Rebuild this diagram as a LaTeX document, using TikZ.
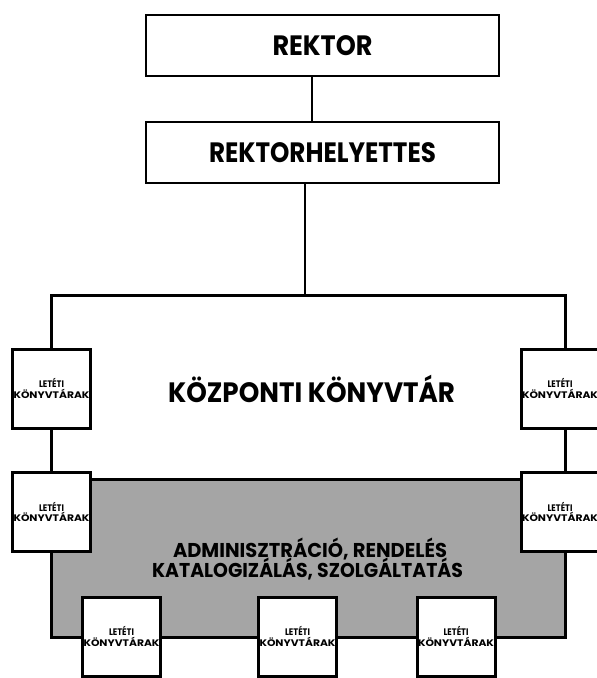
\documentclass[tikz,border=0pt]{standalone}
\usepackage{fontspec}
\usepackage{graphicx}
\setmainfont{Poppins}
\newlength\fitlen
\newcommand\fitto[2]{\settowidth\fitlen{#2}\pgfmathsetmacro\fitsx{#1/\fitlen}\scalebox{\fitsx}[1]{#2}}
\newcommand\letkonyv{\fitto{25}{LETÉTI}\\\fitto{76}{KÖNYVTÁRAK}}
\definecolor{graybg}{RGB}{165,165,165}
\tikzset{
  topbox/.style={draw, line width=1.6pt, minimum width=353pt, minimum height=61pt, inner sep=0pt,
    font=\fontsize{28}{28}\selectfont\bfseries, text height=19.5pt, text depth=0pt},
  mainbox/.style={draw, line width=3pt, minimum width=514pt, minimum height=342pt, inner sep=0pt},
  grayarea/.style={fill=graybg, minimum width=514pt, minimum height=157pt, inner sep=0pt},
  letbox/.style={draw, fill=white, line width=3pt, minimum width=78pt, minimum height=79pt, inner sep=0pt,
    align=center, font=\fontsize{9.5}{10.5}\selectfont\bfseries},
  bigtxt/.style={anchor=base, inner sep=0pt, font=\fontsize{28}{28}\selectfont\bfseries},
  admintxt/.style={anchor=base, inner sep=0pt, font=\fontsize{20}{20}\selectfont\bfseries},
  thinline/.style={line width=1.6pt},
  thickline/.style={line width=3pt},
}
\begin{document}
\begin{tikzpicture}[x=1pt,y=-1pt]
\useasboundingbox[fill=white] (0,0) rectangle (597,678);
% top boxes
\node[topbox] (rektor) at (322.5,45.5) {\fitto{100}{REKTOR}};
\node[topbox] (rh) at (322.5,152.5) {\fitto{227}{REKTORHELYETTES}};
\draw[thinline] ([xshift=-10.5pt]rektor.south) -- ([xshift=-10.5pt]rh.north);
% main area
\node[grayarea] (gray) at (308,558.5) {};
\node[mainbox] (main) at (308,466) {};
\draw[thickline] (gray.north west) -- (gray.north east);
\draw[thinline] ([xshift=-17.5pt]rh.south) -- ([xshift=-17.5pt]rh.south |- main.north);
\node[bigtxt] (kozp) at (311.5,402) {\fitto{287}{KÖZPONTI KÖNYVTÁR}};
\node[admintxt] (adm1) at (310,557) {\fitto{274}{ADMINISZTRÁCIÓ, RENDELÉS}};
\node[admintxt] (adm2) at (307.5,577) {\fitto{311}{KATALOGIZÁLÁS, SZOLGÁLTATÁS}};
% deposit libraries
\node[letbox] (l1) at (51.5,388.5) {\letkonyv};
\node[letbox] (l2) at (51.5,512) {\letkonyv};
\node[letbox] (r1) at (560,388.5) {\letkonyv};
\node[letbox] (r2) at (560,512) {\letkonyv};
\node[letbox] (b1) at (121.5,636.5) {\letkonyv};
\node[letbox] (b2) at (297.5,636.5) {\letkonyv};
\node[letbox] (b3) at (456,636.5) {\letkonyv};
\end{tikzpicture}
\end{document}
